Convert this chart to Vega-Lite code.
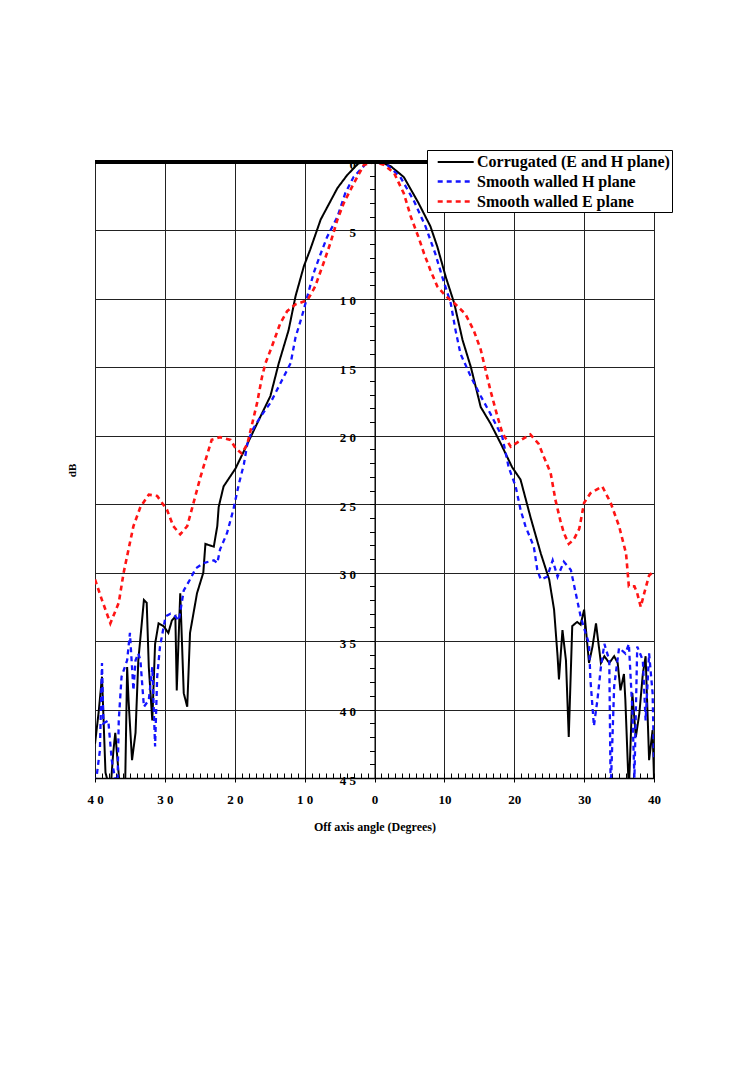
{
"$schema": "https://vega.github.io/schema/vega-lite/v6.json",
"width": 559, "height": 616,
"autosize": {"type": "none"},
"padding": {"left": 95, "top": 162, "right": 100, "bottom": 289},
"background": "white",
"config": {
  "view": {"stroke": "black", "strokeWidth": 1},
  "font": "Liberation Serif",
  "legend": {"orient": "none", "legendX": 332, "legendY": -12, "strokeColor": "black", "fillColor": "white", "padding": 2, "symbolType": "M-0.2,0H3.8", "symbolSize": 324, "labelFont": "Liberation Serif", "labelFontSize": 16, "labelFontWeight": "bold", "labelColor": "black", "labelLimit": 300, "rowPadding": 1, "labelOffset": 27, "cornerRadius": 0}
},
"data": {"values": [
{"s":"C","x":-40,"y":42.5},{"s":"C","x":-39.5,"y":40.3},{"s":"C","x":-39.0,"y":37.6},{"s":"C","x":-38.5,"y":44.6},{"s":"C","x":-37.8,"y":46},{"s":"C","x":-37.4,"y":43.2},{"s":"C","x":-37.1,"y":41.7},{"s":"C","x":-36.4,"y":46},{"s":"C","x":-35.7,"y":46},{"s":"C","x":-35.4,"y":36.9},{"s":"C","x":-35.2,"y":39.3},{"s":"C","x":-34.7,"y":43.7},{"s":"C","x":-34.2,"y":41.7},{"s":"C","x":-33.8,"y":36.4},{"s":"C","x":-33.0,"y":32.0},{"s":"C","x":-32.6,"y":32.2},{"s":"C","x":-32.3,"y":36.9},{"s":"C","x":-31.8,"y":40.8},{"s":"C","x":-31.4,"y":35.2},{"s":"C","x":-30.9,"y":33.7},{"s":"C","x":-30.2,"y":33.9},{"s":"C","x":-29.5,"y":34.4},{"s":"C","x":-29.0,"y":33.5},{"s":"C","x":-28.5,"y":33.2},{"s":"C","x":-28.3,"y":38.6},{"s":"C","x":-27.8,"y":31.5},{"s":"C","x":-27.3,"y":38.8},{"s":"C","x":-26.8,"y":39.8},{"s":"C","x":-26.4,"y":34.4},{"s":"C","x":-25.4,"y":31.5},{"s":"C","x":-24.5,"y":30.0},{"s":"C","x":-24.2,"y":27.9},{"s":"C","x":-23.0,"y":28.1},{"s":"C","x":-22.5,"y":26.6},{"s":"C","x":-22.3,"y":25.2},{"s":"C","x":-21.6,"y":23.7},{"s":"C","x":-19.9,"y":22.4},{"s":"C","x":-18.2,"y":20.6},{"s":"C","x":-16.8,"y":19.1},{"s":"C","x":-14.9,"y":17.1},{"s":"C","x":-13.7,"y":14.7},{"s":"C","x":-12.3,"y":12.3},{"s":"C","x":-11.3,"y":9.8},{"s":"C","x":-10.1,"y":7.6},{"s":"C","x":-9.2,"y":6.4},{"s":"C","x":-7.7,"y":4.2},{"s":"C","x":-5.3,"y":1.9},{"s":"C","x":-3.9,"y":0.95},{"s":"C","x":-2.3,"y":0.1},{"s":"C","x":-1,"y":0},{"s":"C","x":0,"y":0},{"s":"C","x":1,"y":0.05},{"s":"C","x":2.3,"y":0.3},{"s":"C","x":4.2,"y":1.1},{"s":"C","x":6.3,"y":3.0},{"s":"C","x":8.0,"y":4.7},{"s":"C","x":9.0,"y":6.2},{"s":"C","x":10.2,"y":8.4},{"s":"C","x":11.4,"y":10.3},{"s":"C","x":12.6,"y":13.0},{"s":"C","x":13.8,"y":15.0},{"s":"C","x":15.2,"y":17.9},{"s":"C","x":16.6,"y":19.1},{"s":"C","x":18.1,"y":20.6},{"s":"C","x":19.7,"y":22.3},{"s":"C","x":20.9,"y":23.2},{"s":"C","x":22.3,"y":25.9},{"s":"C","x":23.8,"y":28.6},{"s":"C","x":25.0,"y":30.5},{"s":"C","x":25.7,"y":32.7},{"s":"C","x":26.2,"y":36.1},{"s":"C","x":26.4,"y":37.8},{"s":"C","x":26.9,"y":34.2},{"s":"C","x":27.4,"y":36.4},{"s":"C","x":27.8,"y":42.0},{"s":"C","x":28.3,"y":33.9},{"s":"C","x":29.0,"y":33.6},{"s":"C","x":29.5,"y":33.8},{"s":"C","x":30.0,"y":32.7},{"s":"C","x":30.7,"y":36.6},{"s":"C","x":31.2,"y":35.4},{"s":"C","x":31.7,"y":33.7},{"s":"C","x":32.4,"y":36.6},{"s":"C","x":32.9,"y":36.1},{"s":"C","x":33.6,"y":36.6},{"s":"C","x":34.3,"y":36.1},{"s":"C","x":34.8,"y":36.6},{"s":"C","x":35.2,"y":38.6},{"s":"C","x":35.7,"y":37.4},{"s":"C","x":35.9,"y":39.3},{"s":"C","x":36.4,"y":46},{"s":"C","x":36.9,"y":38.8},{"s":"C","x":37.4,"y":42},{"s":"C","x":37.9,"y":40.3},{"s":"C","x":38.4,"y":37.4},{"s":"C","x":38.8,"y":36.1},{"s":"C","x":39.3,"y":43.7},{"s":"C","x":39.8,"y":41.5},{"s":"C","x":40,"y":45},
{"s":"H","x":-40,"y":46},{"s":"H","x":-39.8,"y":45},{"s":"H","x":-39.3,"y":43.0},{"s":"H","x":-39.0,"y":36.6},{"s":"H","x":-38.8,"y":41.0},{"s":"H","x":-38.1,"y":40.8},{"s":"H","x":-37.6,"y":43.7},{"s":"H","x":-36.8,"y":46},{"s":"H","x":-36.6,"y":40.8},{"s":"H","x":-36.2,"y":37.6},{"s":"H","x":-35.4,"y":36.4},{"s":"H","x":-35.0,"y":34.4},{"s":"H","x":-34.5,"y":38.6},{"s":"H","x":-34.2,"y":36.4},{"s":"H","x":-33.8,"y":35.9},{"s":"H","x":-33.5,"y":36.4},{"s":"H","x":-33.0,"y":39.8},{"s":"H","x":-32.3,"y":39.3},{"s":"H","x":-31.8,"y":36.9},{"s":"H","x":-31.4,"y":42.7},{"s":"H","x":-31.1,"y":37.6},{"s":"H","x":-30.7,"y":35.4},{"s":"H","x":-29.9,"y":33.2},{"s":"H","x":-29.2,"y":33.0},{"s":"H","x":-28.5,"y":33.2},{"s":"H","x":-28.0,"y":33.5},{"s":"H","x":-27.3,"y":31.3},{"s":"H","x":-26.4,"y":30.5},{"s":"H","x":-25.6,"y":29.7},{"s":"H","x":-24.5,"y":29.3},{"s":"H","x":-23.0,"y":29.1},{"s":"H","x":-22.5,"y":29.3},{"s":"H","x":-22.1,"y":28.3},{"s":"H","x":-21.1,"y":27.1},{"s":"H","x":-20.2,"y":25.4},{"s":"H","x":-19.4,"y":23.5},{"s":"H","x":-18.7,"y":22.1},{"s":"H","x":-18.2,"y":20.6},{"s":"H","x":-17.5,"y":19.6},{"s":"H","x":-16.3,"y":18.6},{"s":"H","x":-14.9,"y":17.6},{"s":"H","x":-13.5,"y":16.2},{"s":"H","x":-12.0,"y":14.7},{"s":"H","x":-11.3,"y":12.8},{"s":"H","x":-10.4,"y":11.3},{"s":"H","x":-9.6,"y":9.8},{"s":"H","x":-8.7,"y":8.1},{"s":"H","x":-7.7,"y":6.7},{"s":"H","x":-6.8,"y":5.5},{"s":"H","x":-5.3,"y":4.0},{"s":"H","x":-4.2,"y":2.3},{"s":"H","x":-3.0,"y":1.1},{"s":"H","x":-1.0,"y":0},{"s":"H","x":0,"y":0},{"s":"H","x":1.8,"y":0.2},{"s":"H","x":3.7,"y":1.1},{"s":"H","x":5.6,"y":2.8},{"s":"H","x":7.3,"y":4.7},{"s":"H","x":8.7,"y":6.7},{"s":"H","x":9.7,"y":8.4},{"s":"H","x":10.9,"y":10.3},{"s":"H","x":11.6,"y":12.3},{"s":"H","x":12.3,"y":14.0},{"s":"H","x":13.8,"y":15.7},{"s":"H","x":15.2,"y":17.1},{"s":"H","x":16.6,"y":18.4},{"s":"H","x":18.3,"y":20.1},{"s":"H","x":19.2,"y":22.3},{"s":"H","x":20.2,"y":23.7},{"s":"H","x":20.9,"y":25.4},{"s":"H","x":21.6,"y":26.6},{"s":"H","x":22.8,"y":28.1},{"s":"H","x":23.3,"y":29.8},{"s":"H","x":23.8,"y":30.5},{"s":"H","x":24.7,"y":30.3},{"s":"H","x":25.5,"y":29.1},{"s":"H","x":26.2,"y":30.3},{"s":"H","x":27.1,"y":29.2},{"s":"H","x":28.1,"y":29.8},{"s":"H","x":28.8,"y":31.5},{"s":"H","x":29.5,"y":33.2},{"s":"H","x":30.2,"y":34.4},{"s":"H","x":30.7,"y":35.2},{"s":"H","x":30.9,"y":37.8},{"s":"H","x":31.4,"y":41.2},{"s":"H","x":31.9,"y":39.3},{"s":"H","x":32.4,"y":36.9},{"s":"H","x":32.9,"y":35.2},{"s":"H","x":33.6,"y":36.4},{"s":"H","x":33.8,"y":46},{"s":"H","x":34.3,"y":38.3},{"s":"H","x":35.0,"y":35.5},{"s":"H","x":35.9,"y":35.9},{"s":"H","x":36.4,"y":35.2},{"s":"H","x":36.9,"y":40.0},{"s":"H","x":37.2,"y":45},{"s":"H","x":37.6,"y":35.4},{"s":"H","x":38.4,"y":36.4},{"s":"H","x":38.8,"y":40.8},{"s":"H","x":39.3,"y":35.9},{"s":"H","x":39.8,"y":38.8},{"s":"H","x":40,"y":43.7},
{"s":"E","x":-40,"y":30.5},{"s":"E","x":-39.0,"y":32.0},{"s":"E","x":-37.8,"y":33.7},{"s":"E","x":-36.6,"y":32.2},{"s":"E","x":-35.9,"y":30.0},{"s":"E","x":-35.2,"y":28.3},{"s":"E","x":-34.5,"y":26.6},{"s":"E","x":-33.5,"y":25.2},{"s":"E","x":-32.3,"y":24.3},{"s":"E","x":-31.1,"y":24.4},{"s":"E","x":-29.7,"y":25.4},{"s":"E","x":-28.8,"y":26.6},{"s":"E","x":-27.8,"y":27.2},{"s":"E","x":-26.8,"y":26.6},{"s":"E","x":-25.9,"y":24.9},{"s":"E","x":-24.9,"y":23.0},{"s":"E","x":-24.2,"y":21.8},{"s":"E","x":-23.3,"y":20.3},{"s":"E","x":-22.1,"y":20.1},{"s":"E","x":-20.6,"y":20.3},{"s":"E","x":-19.9,"y":20.9},{"s":"E","x":-19.0,"y":21.3},{"s":"E","x":-18.2,"y":20.6},{"s":"E","x":-17.5,"y":19.1},{"s":"E","x":-16.8,"y":17.6},{"s":"E","x":-16.1,"y":15.7},{"s":"E","x":-15.6,"y":14.7},{"s":"E","x":-14.7,"y":13.5},{"s":"E","x":-13.5,"y":11.8},{"s":"E","x":-12.5,"y":10.9},{"s":"E","x":-11.3,"y":10.4},{"s":"E","x":-9.6,"y":10.1},{"s":"E","x":-8.5,"y":9.1},{"s":"E","x":-7.3,"y":7.4},{"s":"E","x":-6.3,"y":5.9},{"s":"E","x":-5.3,"y":4.2},{"s":"E","x":-4.4,"y":3.0},{"s":"E","x":-3.0,"y":1.6},{"s":"E","x":-1.5,"y":0.2},{"s":"E","x":0,"y":0},{"s":"E","x":1.3,"y":0.2},{"s":"E","x":2.8,"y":0.8},{"s":"E","x":4.2,"y":2.3},{"s":"E","x":5.2,"y":4.0},{"s":"E","x":6.3,"y":5.5},{"s":"E","x":7.1,"y":6.7},{"s":"E","x":8.0,"y":7.9},{"s":"E","x":9.0,"y":9.1},{"s":"E","x":10.2,"y":9.8},{"s":"E","x":11.4,"y":10.3},{"s":"E","x":13.0,"y":11.1},{"s":"E","x":14.2,"y":12.3},{"s":"E","x":15.2,"y":13.7},{"s":"E","x":15.9,"y":15.2},{"s":"E","x":16.6,"y":16.7},{"s":"E","x":17.6,"y":18.6},{"s":"E","x":18.3,"y":19.8},{"s":"E","x":19.5,"y":20.8},{"s":"E","x":20.7,"y":20.4},{"s":"E","x":22.3,"y":19.9},{"s":"E","x":23.5,"y":20.6},{"s":"E","x":24.2,"y":21.5},{"s":"E","x":25.2,"y":22.7},{"s":"E","x":25.9,"y":24.7},{"s":"E","x":26.6,"y":26.2},{"s":"E","x":27.1,"y":27.1},{"s":"E","x":27.8,"y":27.9},{"s":"E","x":28.5,"y":27.6},{"s":"E","x":29.3,"y":26.8},{"s":"E","x":30.0,"y":24.9},{"s":"E","x":30.9,"y":24.2},{"s":"E","x":32.6,"y":23.7},{"s":"E","x":33.8,"y":24.9},{"s":"E","x":35.0,"y":26.6},{"s":"E","x":36.0,"y":28.6},{"s":"E","x":36.4,"y":31.0},{"s":"E","x":37.2,"y":31.0},{"s":"E","x":37.6,"y":31.5},{"s":"E","x":38.1,"y":32.5},{"s":"E","x":38.6,"y":31.5},{"s":"E","x":39.3,"y":30.2},{"s":"E","x":40,"y":29.9}
]},
"layer": [
  {
    "mark": {"type": "line", "clip": true},
    "encoding": {
      "x": {"field": "x", "type": "quantitative", "scale": {"domain": [-40, 40], "nice": false, "zero": false},
        "axis": {"orient": "bottom", "values": [-40,-30,-20,-10,0,10,20,30,40], "grid": true, "gridColor": "#222", "gridWidth": 1, "gridOpacity": 1, "domain": true, "domainColor": "black", "domainWidth": 1.5, "tickSize": 4, "tickColor": "black", "labelExpr": "datum.value < 0 ? floor(-datum.value/10) + ' ' + ((-datum.value) % 10) : '' + datum.value", "labelFont": "Liberation Serif", "labelFontSize": 13, "labelFontWeight": "bold", "labelColor": "black", "labelPadding": 11, "labelFlush": false, "labelOverlap": false, "title": "Off axis angle (Degrees)", "titleFont": "Liberation Serif", "titleFontSize": 12, "titleFontWeight": "bold", "titleColor": "black", "titlePadding": 15}},
      "y": {"field": "y", "type": "quantitative", "scale": {"domain": [0, 45], "reverse": true, "nice": false, "zero": false},
        "axis": {"orient": "left", "values": [0,5,10,15,20,25,30,35,40,45], "grid": true, "gridColor": "#222", "gridWidth": 1, "gridOpacity": 1, "labels": false, "ticks": false, "domain": false, "title": "dB", "titleFont": "Liberation Serif", "titleFontSize": 11, "titleFontWeight": "bold", "titleColor": "black", "titlePadding": 18}},
      "color": {"field": "s", "type": "nominal", "scale": {"domain": ["C", "H", "E"], "range": ["#000000", "#1414ff", "#ff1414"]},
        "legend": {"title": null, "labelExpr": "datum.value == 'C' ? 'Corrugated (E and H plane)' : datum.value == 'H' ? 'Smooth walled H plane' : 'Smooth walled E plane'"}},
      "strokeDash": {"field": "s", "type": "nominal", "scale": {"domain": ["C", "H", "E"], "range": [[1, 0], [5, 4], [5, 4]]},
        "legend": {"title": null, "labelExpr": "datum.value == 'C' ? 'Corrugated (E and H plane)' : datum.value == 'H' ? 'Smooth walled H plane' : 'Smooth walled E plane'"}},
      "strokeWidth": {"field": "s", "type": "nominal", "scale": {"domain": ["C", "H", "E"], "range": [2, 2.6, 2.6]},
        "legend": {"title": null, "labelExpr": "datum.value == 'C' ? 'Corrugated (E and H plane)' : datum.value == 'H' ? 'Smooth walled H plane' : 'Smooth walled E plane'"}}
    }
  },
  {
    "mark": {"type": "point", "opacity": 0},
    "encoding": {
      "x": {"field": "x", "type": "quantitative",
        "axis": {"orient": "bottom", "values": [-40,-39,-38,-37,-36,-35,-34,-33,-32,-31,-30,-29,-28,-27,-26,-25,-24,-23,-22,-21,-20,-19,-18,-17,-16,-15,-14,-13,-12,-11,-10,-9,-8,-7,-6,-5,-4,-3,-2,-1,0,1,2,3,4,5,6,7,8,9,10,11,12,13,14,15,16,17,18,19,20,21,22,23,24,25,26,27,28,29,30,31,32,33,34,35,36,37,38,39,40], "tickSize": -5, "tickColor": "black", "labels": false, "domain": false, "grid": false, "title": null}},
      "y": {"field": "y", "type": "quantitative",
        "axis": {"orient": "left", "offset": -279.5, "values": [0,1,2,3,4,5,6,7,8,9,10,11,12,13,14,15,16,17,18,19,20,21,22,23,24,25,26,27,28,29,30,31,32,33,34,35,36,37,38,39,40,41,42,43,44,45], "tickSize": 5, "tickColor": "black", "domain": true, "domainColor": "black", "grid": false, "title": null, "labelExpr": "datum.value % 5 != 0 ? '' : (datum.value < 10 ? '' + datum.value : floor(datum.value/10) + ' ' + (datum.value % 10))", "labelFont": "Liberation Serif", "labelFontSize": 13, "labelFontWeight": "bold", "labelColor": "black", "labelPadding": 14, "labelOffset": 2, "labelOverlap": false, "labelBound": false, "labelFlush": false}}
    }
  },
  {
    "mark": {"type": "rule", "color": "black", "strokeWidth": 2.5},
    "encoding": {"y": {"datum": 0, "type": "quantitative", "axis": null}}
  }
],
"resolve": {"axis": {"x": "independent", "y": "independent"}}
}
